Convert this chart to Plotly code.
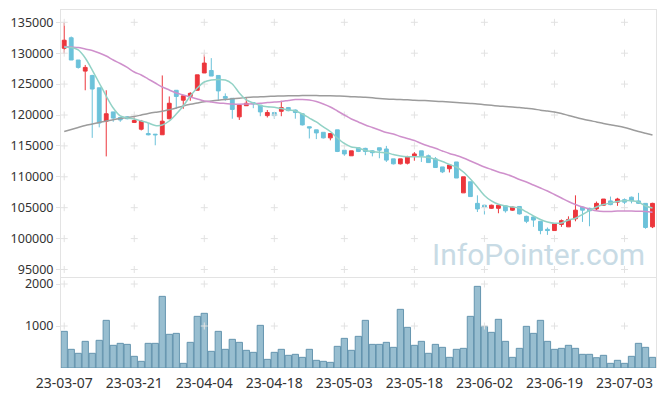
import plotly.graph_objects as go

dates = [
    "23-03-07", "23-03-08", "23-03-09", "23-03-10", "23-03-13", "23-03-14", "23-03-15", "23-03-16", "23-03-17",
    "23-03-20", "23-03-21", "23-03-22", "23-03-23", "23-03-24", "23-03-27", "23-03-28", "23-03-29", "23-03-30",
    "23-03-31", "23-04-03", "23-04-04", "23-04-05", "23-04-06", "23-04-07", "23-04-10", "23-04-11", "23-04-12",
    "23-04-13", "23-04-14", "23-04-17", "23-04-18", "23-04-19", "23-04-20", "23-04-21", "23-04-24", "23-04-25",
    "23-04-26", "23-04-27", "23-04-28", "23-05-02", "23-05-03", "23-05-04", "23-05-08", "23-05-09", "23-05-10",
    "23-05-11", "23-05-12", "23-05-15", "23-05-16", "23-05-17", "23-05-18", "23-05-19", "23-05-22", "23-05-23",
    "23-05-24", "23-05-25", "23-05-26", "23-05-30", "23-05-31", "23-06-01", "23-06-02", "23-06-05", "23-06-07",
    "23-06-08", "23-06-09", "23-06-12", "23-06-13", "23-06-14", "23-06-15", "23-06-16", "23-06-19", "23-06-20",
    "23-06-21", "23-06-22", "23-06-23", "23-06-26", "23-06-27", "23-06-28", "23-06-29", "23-06-30", "23-07-03",
    "23-07-04", "23-07-05", "23-07-06", "23-07-07",
]

open_ = [130800, 132500, 128900, 127100, 126400, 124400, 119000, 120500, 119600, 119700,
         118800, 117700, 117000, 116900, 116800, 119400, 124000, 122400, 123000, 124000,
         126800, 127200, 126400, 123000, 122700, 119700, 121500, 122000, 121600, 119900,
         120400, 120600, 121200, 120800, 120200, 118100, 117600, 117200, 116300, 117600,
         114300, 113400, 114700, 114600, 114200, 114700, 114500, 112900, 112100, 112200,
         113400, 114200, 113400, 112900, 111600, 111300, 112400, 107400, 109200, 105700,
         105400, 104900, 104900, 105300, 104600, 105200, 103600, 103500, 102800, 101500,
         101300, 102300, 101900, 103200, 105100, 104900, 104800, 105400, 106100, 105900,
         106300, 106700, 106100, 105700, 101900]
high = [135000, 132700, 128900, 128100, 126500, 124400, 124000, 120500, 119700, 119800,
        119800, 119200, 118700, 116900, 126400, 123000, 124000, 123200, 123700, 126500,
        129800, 129200, 126400, 123500, 122700, 121700, 122700, 122100, 121600, 120800,
        120400, 122300, 121300, 120900, 120300, 118100, 117600, 117200, 117000, 117600,
        114300, 114200, 114700, 114700, 114300, 114700, 115000, 112900, 112900, 113400,
        114000, 114200, 113600, 113200, 111600, 111900, 112400, 110000, 109200, 107000,
        105500, 105500, 105500, 105400, 105200, 105200, 103700, 103600, 102800, 101800,
        102500, 103100, 103600, 107000, 105200, 105000, 106000, 106400, 106800, 106600,
        106500, 106800, 107400, 105700, 105800]
low = [129900, 128900, 127500, 124000, 116300, 118000, 113300, 118900, 118900, 119300,
       118700, 117500, 116700, 115100, 116800, 119300, 121000, 121000, 122300, 124000,
       126800, 126300, 122400, 122300, 119400, 119200, 121500, 121100, 119800, 119600,
       119400, 119800, 120600, 119400, 118300, 116200, 116100, 116200, 115900, 114000,
       113400, 113400, 114000, 113500, 113300, 113000, 112400, 112000, 112000, 112000,
       112600, 112400, 112300, 111500, 110600, 110700, 109800, 107400, 106800, 104300,
       103900, 104800, 104100, 104200, 104500, 103900, 102500, 101900, 100700, 100600,
       101300, 101900, 101900, 102800, 102700, 102000, 104600, 105300, 105400, 105300,
       105600, 105700, 105600, 101600, 101700]
close = [132100, 128900, 127700, 127700, 124200, 118700, 120200, 119500, 119200, 119400,
         119100, 119000, 116800, 116800, 119000, 121900, 123000, 123100, 123500, 126500,
         128400, 126300, 123900, 122700, 120900, 121600, 121900, 121800, 120500, 120400,
         119900, 121200, 120700, 120400, 118400, 117900, 117100, 116300, 117000, 114100,
         113700, 114200, 114100, 114100, 113900, 114300, 112700, 112100, 112900, 113200,
         113700, 113400, 112300, 111500, 110800, 111900, 109800, 110000, 106800, 104800,
         105100, 105400, 105400, 104500, 105100, 104000, 102800, 103000, 101300, 101300,
         102400, 102900, 103100, 104600, 104600, 104500, 105700, 106400, 105500, 106400,
         105900, 106100, 105700, 101800, 105700]
volume = [873, 445, 350, 635, 350, 659, 1135, 540, 587, 563,
          278, 159, 587, 587, 1706, 802, 825, 111, 611, 1230,
          1302, 397, 873, 445, 683, 611, 421, 373, 1016, 206,
          373, 445, 302, 326, 254, 445, 183, 159, 135, 516,
          706, 421, 754, 1135, 563, 563, 611, 492, 1397, 968,
          540, 635, 350, 563, 492, 254, 445, 468, 1230, 1944,
          992, 849, 1159, 635, 254, 468, 992, 825, 1135, 635,
          445, 468, 540, 468, 326, 326, 246, 302, 111, 183,
          111, 278, 587, 492, 254]
ma5 = [130950, 130920, 130520, 129220, 127280, 125180, 123070, 121130, 119840, 119510,
       119350, 119030, 118710, 118300, 118380, 119030, 120160, 121460, 123070, 124370,
       125340, 125660, 125740, 125660, 125020, 123560, 122430, 121940, 121540, 121330,
       121250, 121050, 120810, 120650, 120160, 119510, 118870, 118060, 117330, 116280,
       115390, 114820, 114660, 114260, 114090, 113960, 113880, 113610, 113370, 113250,
       113250, 113250, 113120, 112830, 112480, 111990, 111590, 110780, 109640, 108350,
       106980, 106090, 105550, 105280, 105110, 104950, 104310, 103660, 103090, 102690,
       102480, 102530, 103010, 103290, 103900, 104550, 105110, 105520, 105760, 106000,
       106120, 106130, 105920, 105280, 104950]
ma20 = [131080, 131000, 130920, 130680, 130440, 130030, 129550, 128900, 128330, 127690,
        126960, 126470, 125820, 125180, 124530, 124050, 123560, 123240, 122910, 122590,
        122270, 122100, 121940, 121860, 121780, 121750, 121780, 121810, 121890, 122020,
        122100, 122180, 122350, 122510, 122510, 122430, 122180, 121780, 121290, 120650,
        120000, 119350, 118870, 118380, 117980, 117570, 117170, 116930, 116520, 116200,
        115870, 115390, 114980, 114610, 114180, 113770, 113450, 113040, 112560, 112070,
        111590, 111180, 110780, 110450, 110050, 109560, 109160, 108670, 108190, 107700,
        107140, 106570, 106000, 105520, 105110, 104790, 104500, 104390, 104390, 104470,
        104470, 104470, 104420, 104390, 104260]
ma60 = [117330, 117650, 117980, 118300, 118540, 118790, 119030, 119240, 119430, 119600,
        119760, 120000, 120240, 120440, 120610, 120860, 121130, 121460, 121730, 121940,
        122140, 122270, 122390, 122510, 122620, 122720, 122820, 122900, 122940, 122990,
        123040, 123070, 123110, 123120, 123140, 123140, 123140, 123120, 123110, 123070,
        123030, 122960, 122910, 122860, 122780, 122670, 122590, 122540, 122510, 122460,
        122390, 122350, 122300, 122230, 122170, 122100, 122020, 121940, 121860, 121780,
        121670, 121570, 121460, 121380, 121290, 121200, 121080, 120970, 120780, 120640,
        120490, 120250, 119920, 119630, 119350, 119100, 118870, 118630, 118420, 118220,
        117980, 117660, 117330, 117040, 116760]

price_ticks = [95000, 100000, 105000, 110000, 115000, 120000, 125000, 130000, 135000]
volume_ticks = [1000, 2000]
label_dates = dates[::10]

RED = "#ec363c"
BLUE = "#6cc2da"
FONT = "Noto Sans"
AXIS_COL = "#e3e3e3"
GRID_COL = "#e2e2e2"

fig = go.Figure()

# plus-shaped grid marks
gx, gy = [], []
for d in label_dates:
    for p in price_ticks:
        gx.append(d)
        gy.append(p)
fig.add_trace(go.Scatter(x=gx, y=gy, mode="markers", xaxis="x2", yaxis="y2",
                         marker=dict(symbol="cross-thin", size=5, line=dict(width=1, color=GRID_COL)),
                         hoverinfo="skip", showlegend=False))
vx, vy = [], []
for d in label_dates:
    for v in volume_ticks:
        vx.append(d)
        vy.append(v)
fig.add_trace(go.Scatter(x=vx, y=vy, mode="markers", xaxis="x", yaxis="y",
                         marker=dict(symbol="cross-thin", size=5, line=dict(width=1, color=GRID_COL)),
                         hoverinfo="skip", showlegend=False))

fig.add_trace(go.Candlestick(
    x=dates, open=open_, high=high, low=low, close=close,
    xaxis="x2", yaxis="y2",
    increasing=dict(line=dict(color=RED, width=1), fillcolor=RED),
    decreasing=dict(line=dict(color=BLUE, width=1), fillcolor=BLUE),
    whiskerwidth=0, showlegend=False,
))

fig.add_trace(go.Scatter(x=dates, y=ma60, mode="lines", xaxis="x2", yaxis="y2",
                         line=dict(color="#9c9c9c", width=1.5, shape="spline", smoothing=0.8),
                         showlegend=False, hoverinfo="skip"))
fig.add_trace(go.Scatter(x=dates, y=ma20, mode="lines", xaxis="x2", yaxis="y2",
                         line=dict(color="#cf90cc", width=1.5, shape="spline", smoothing=0.8),
                         showlegend=False, hoverinfo="skip"))
fig.add_trace(go.Scatter(x=dates, y=ma5, mode="lines", xaxis="x2", yaxis="y2",
                         line=dict(color="#92d2c6", width=1.5, shape="spline", smoothing=0.8),
                         showlegend=False, hoverinfo="skip"))

fig.add_trace(go.Bar(x=dates, y=volume, xaxis="x", yaxis="y",
                     marker=dict(color="rgba(118,168,192,0.75)",
                                 line=dict(color="rgba(92,142,170,0.9)", width=1)),
                     showlegend=False, hoverinfo="skip"))

# the page body has an 8px margin, so the figure is sized/offset to compensate
xr = [-0.46, 84.5]
fig.update_layout(
    width=657, height=388,
    margin=dict(l=53, r=9, t=2, b=28, autoexpand=False),
    paper_bgcolor="white", plot_bgcolor="white",
    font=dict(family=FONT, size=13, color="#333333"),
    bargap=0.1, boxgap=0.22,
    showlegend=False,
    xaxis=dict(type="category", categoryorder="array", categoryarray=dates,
               domain=[0, 1], anchor="y", range=xr,
               tickmode="array", tickvals=label_dates, ticktext=label_dates, tickangle=0,
               showgrid=False, zeroline=False, showline=False,
               ticks="outside", ticklen=2, tickcolor="rgba(0,0,0,0)",
               tickfont=dict(family=FONT, size=14, color="#333333")),
    xaxis2=dict(type="category", categoryorder="array", categoryarray=dates,
                domain=[0, 1], anchor="y2", range=xr, matches="x",
                showticklabels=False, showgrid=False, zeroline=False,
                showline=True, mirror=True, linecolor=AXIS_COL, linewidth=1, ticks="",
                rangeslider=dict(visible=False)),
    yaxis=dict(domain=[0, 0.2534], range=[0, 2160], tickmode="array", tickvals=volume_ticks,
               tickformat="d", showgrid=False, zeroline=False,
               showline=True, mirror="ticks", linecolor=AXIS_COL, linewidth=1,
               ticks="outside", ticklen=4, tickcolor=AXIS_COL,
               tickfont=dict(family=FONT, size=12.5, color="#333333")),
    yaxis2=dict(domain=[0.2534, 1], range=[93740, 136990], tickmode="array", tickvals=price_ticks,
                tickformat="d", showgrid=False, zeroline=False,
                showline=True, mirror="ticks", linecolor=AXIS_COL, linewidth=1,
                ticks="outside", ticklen=4, tickcolor=AXIS_COL,
                tickfont=dict(family=FONT, size=12.5, color="#333333")),
    annotations=[dict(text="InfoPointer.com", xref="paper", yref="paper",
                      x=0.803, y=0.318, xanchor="center", yanchor="middle",
                      showarrow=False,
                      font=dict(family="Roboto", size=30, color="#c8dbe5"))],
)

fig.write_html("out.html")
